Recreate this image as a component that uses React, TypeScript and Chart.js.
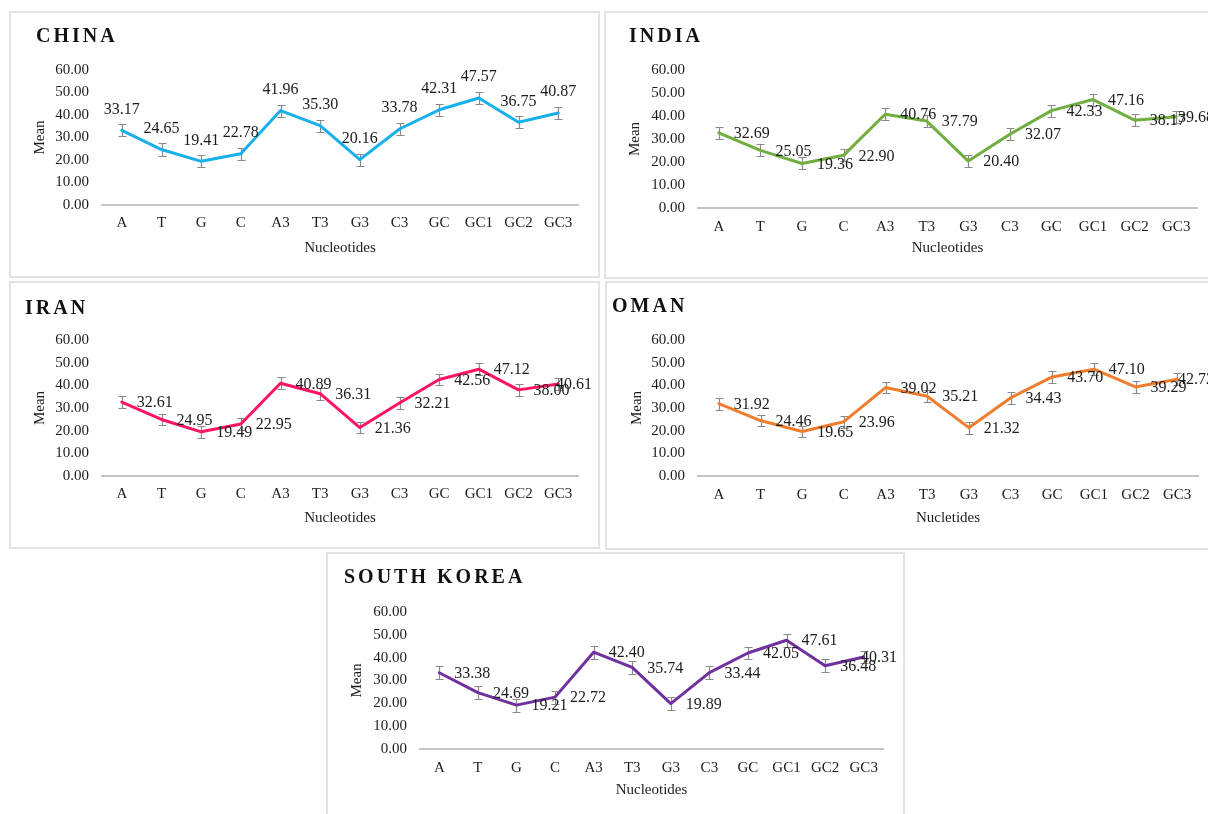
import React, { useEffect, useRef } from "react";
import { Chart, registerables } from "chart.js";

Chart.register(...registerables);

// Categories shared by every panel
const nucleotides = ["A", "T", "G", "C", "A3", "T3", "G3", "C3", "GC", "GC1", "GC2", "GC3"];

// Mean nucleotide composition per country
const chinaMeans = [33.17, 24.65, 19.41, 22.78, 41.96, 35.3, 20.16, 33.78, 42.31, 47.57, 36.75, 40.87];
const indiaMeans = [32.69, 25.05, 19.36, 22.9, 40.76, 37.79, 20.4, 32.07, 42.33, 47.16, 38.17, 39.68];
const iranMeans = [32.61, 24.95, 19.49, 22.95, 40.89, 36.31, 21.36, 32.21, 42.56, 47.12, 38.0, 40.61];
const omanMeans = [31.92, 24.46, 19.65, 23.96, 39.02, 35.21, 21.32, 34.43, 43.7, 47.1, 39.29, 42.72];
const koreaMeans = [33.38, 24.69, 19.21, 22.72, 42.4, 35.74, 19.89, 33.44, 42.05, 47.61, 36.48, 40.31];

// Standard error bars (± around each mean)
const chinaErrors = [2.7, 2.7, 2.7, 2.7, 2.7, 2.7, 2.7, 2.7, 2.7, 2.7, 2.7, 2.7];
const indiaErrors = [2.6, 2.6, 2.6, 2.6, 2.6, 2.6, 2.6, 2.6, 2.6, 2.6, 2.6, 2.6];
const iranErrors = [2.6, 2.6, 2.6, 2.6, 2.6, 2.6, 2.6, 2.6, 2.6, 2.6, 2.6, 2.6];
const omanErrors = [2.6, 2.6, 2.6, 2.6, 2.6, 2.6, 2.6, 2.6, 2.6, 2.6, 2.6, 2.6];
const koreaErrors = [2.8, 2.8, 2.8, 2.8, 2.8, 2.8, 2.8, 2.8, 2.8, 2.8, 2.8, 2.8];

// Value axis
const yMin = 0;
const yMax = 60;
const yStep = 10;

const SERIF = '"Liberation Serif", "Times New Roman", Times, serif';
const TEXT = "#1c1c1c";

type Box = { x: number; y: number; w: number; h: number };
type Plot = { l: number; r: number; t: number; b: number };
type Panel = {
  title: string;
  xTitle: string;
  color: string;
  means: number[];
  errors: number[];
  labelPos: "above" | "right";
  box: Box;
  plot: Plot;
  meanX: number;
  xTitleY: number;
  catY: number;
  titleX: number;
  titleBase: number;
};

const panels: Panel[] = [
  {
    title: "CHINA", xTitle: "Nucleotides", color: "#17b0ec", means: chinaMeans, errors: chinaErrors,
    labelPos: "above",
    box: { x: 9, y: 11, w: 591, h: 267 }, plot: { l: 102, r: 578, t: 70, b: 205 },
    meanX: 40, xTitleY: 248, catY: 223, titleX: 36, titleBase: 42,
  },
  {
    title: "INDIA", xTitle: "Nucleotides", color: "#6fae3f", means: indiaMeans, errors: indiaErrors,
    labelPos: "right",
    box: { x: 604, y: 11, w: 618, h: 268 }, plot: { l: 698, r: 1197, t: 70, b: 208 },
    meanX: 635, xTitleY: 248, catY: 227, titleX: 629, titleBase: 42,
  },
  {
    title: "IRAN", xTitle: "Nucleotides", color: "#ff1464", means: iranMeans, errors: iranErrors,
    labelPos: "right",
    box: { x: 9, y: 281, w: 591, h: 268 }, plot: { l: 102, r: 578, t: 340, b: 476 },
    meanX: 40, xTitleY: 518, catY: 494, titleX: 25, titleBase: 314,
  },
  {
    title: "OMAN", xTitle: "Nucletides", color: "#ee7d2e", means: omanMeans, errors: omanErrors,
    labelPos: "right",
    box: { x: 605, y: 281, w: 617, h: 269 }, plot: { l: 698, r: 1198, t: 340, b: 476 },
    meanX: 637, xTitleY: 518, catY: 495, titleX: 612, titleBase: 312,
  },
  {
    title: "SOUTH KOREA", xTitle: "Nucleotides", color: "#7030a0", means: koreaMeans, errors: koreaErrors,
    labelPos: "right",
    box: { x: 326, y: 552, w: 579, h: 266 }, plot: { l: 420, r: 883, t: 612, b: 749 },
    meanX: 357, xTitleY: 790, catY: 768, titleX: 344, titleBase: 583,
  },
];

// Vertical error bars with caps, drawn under the line
const errorBars = {
  id: "errorBars",
  beforeDatasetsDraw(chart: any, _args: any, opts: any) {
    const errors: number[] = opts.errors || [];
    const values: number[] = chart.data.datasets[0].data;
    const meta = chart.getDatasetMeta(0);
    const y = chart.scales.y;
    const ctx = chart.ctx;
    ctx.save();
    ctx.strokeStyle = "#8a8a8a";
    ctx.lineWidth = 1.2;
    meta.data.forEach((pt: any, i: number) => {
      const e = errors[i];
      if (e == null) return;
      const top = Math.round(y.getPixelForValue(values[i] + e)) + 0.5;
      const bot = Math.round(y.getPixelForValue(values[i] - e)) + 0.5;
      const x = Math.round(pt.x) + 0.5;
      ctx.beginPath();
      ctx.moveTo(x, top);
      ctx.lineTo(x, bot);
      ctx.moveTo(x - 4, top);
      ctx.lineTo(x + 4, top);
      ctx.moveTo(x - 4, bot);
      ctx.lineTo(x + 4, bot);
      ctx.stroke();
    });
    ctx.restore();
  },
};

// Value labels beside each point
const valueLabels = {
  id: "valueLabels",
  afterDatasetsDraw(chart: any, _args: any, opts: any) {
    const values: number[] = chart.data.datasets[0].data;
    const meta = chart.getDatasetMeta(0);
    const ctx = chart.ctx;
    ctx.save();
    ctx.font = `16px ${SERIF}`;
    ctx.fillStyle = TEXT;
    ctx.textBaseline = "middle";
    meta.data.forEach((pt: any, i: number) => {
      const text = values[i].toFixed(2);
      if (opts.position === "above") {
        ctx.textAlign = "center";
        ctx.fillText(text, pt.x, pt.y - 21);
      } else {
        const w = ctx.measureText(text).width;
        let x = pt.x + 15;
        const limit = chart.width - 8;
        if (x + w > limit) x = limit - w;
        ctx.textAlign = "left";
        ctx.fillText(text, x, pt.y + 1);
      }
    });
    ctx.restore();
  },
};

function PanelChart({ p }: { p: Panel }) {
  const ref = useRef<HTMLCanvasElement>(null);

  useEffect(() => {
    if (!ref.current) return;
    const { box, plot } = p;
    const half = 9; // half line height of 15px text
    const xAxisBottom = p.xTitleY + half + 4;
    const padLeft = p.meanX - half - 4 - box.x;
    const yWidth = plot.l - box.x - padLeft;
    const xHeight = xAxisBottom - plot.b;
    const font = { family: SERIF, size: 15 };

    const chart = new Chart(ref.current, {
      type: "line",
      data: {
        labels: nucleotides,
        datasets: [
          {
            data: p.means,
            borderColor: p.color,
            backgroundColor: p.color,
            borderWidth: 3,
            pointRadius: 0,
            tension: 0,
            borderJoinStyle: "round",
            borderCapStyle: "round",
          },
        ],
      },
      options: {
        responsive: false,
        animation: false,
        devicePixelRatio: 1,
        layout: {
          padding: {
            left: padLeft,
            top: plot.t - box.y,
            right: box.x + box.w - plot.r,
            bottom: box.y + box.h - xAxisBottom,
          },
        },
        plugins: {
          legend: { display: false },
          tooltip: { enabled: false },
          title: { display: false },
          errorBars: { errors: p.errors },
          valueLabels: { position: p.labelPos },
        } as any,
        scales: {
          x: {
            type: "category",
            offset: true,
            grid: { display: false, drawTicks: false },
            border: { display: true, color: "#c4c4c4", width: 2 },
            ticks: { font, color: TEXT, padding: p.catY - plot.b - half, maxRotation: 0, autoSkip: false },
            title: { display: true, text: p.xTitle, font, color: TEXT, padding: { top: 0, bottom: 4 } },
            afterFit: (s: any) => { s.height = xHeight; },
          },
          y: {
            min: yMin,
            max: yMax,
            grid: { display: false, drawTicks: false },
            border: { display: false },
            ticks: {
              stepSize: yStep,
              font,
              color: TEXT,
              padding: 13,
              callback: (v: any) => Number(v).toFixed(2),
            },
            title: { display: true, text: "Mean", font, color: TEXT, padding: { top: 4, bottom: 0 } },
            afterFit: (s: any) => { s.width = yWidth; },
          },
        },
      },
      plugins: [errorBars, valueLabels],
    });
    return () => chart.destroy();
  }, [p]);

  const { box } = p;
  return (
    <>
      <div
        style={{
          position: "absolute",
          left: box.x,
          top: box.y,
          width: box.w,
          height: box.h,
          boxSizing: "border-box",
          border: "2px solid #e3e3e3",
          background: "#ffffff",
        }}
      />
      <canvas
        ref={ref}
        width={box.w}
        height={box.h}
        style={{ position: "absolute", left: box.x, top: box.y, width: box.w, height: box.h }}
      />
      <div
        style={{
          position: "absolute",
          left: p.titleX,
          top: p.titleBase - 17,
          font: `bold 20px ${SERIF}`,
          lineHeight: "20px",
          letterSpacing: "3px",
          color: "#111",
          whiteSpace: "nowrap",
        }}
      >
        {p.title}
      </div>
    </>
  );
}

export default function App() {
  return (
    <div
      style={{
        position: "absolute",
        left: 0,
        top: 0,
        width: 1208,
        height: 814,
        overflow: "hidden",
        background: "#ffffff",
      }}
    >
      {panels.map((p) => (
        <PanelChart key={p.title} p={p} />
      ))}
    </div>
  );
}
